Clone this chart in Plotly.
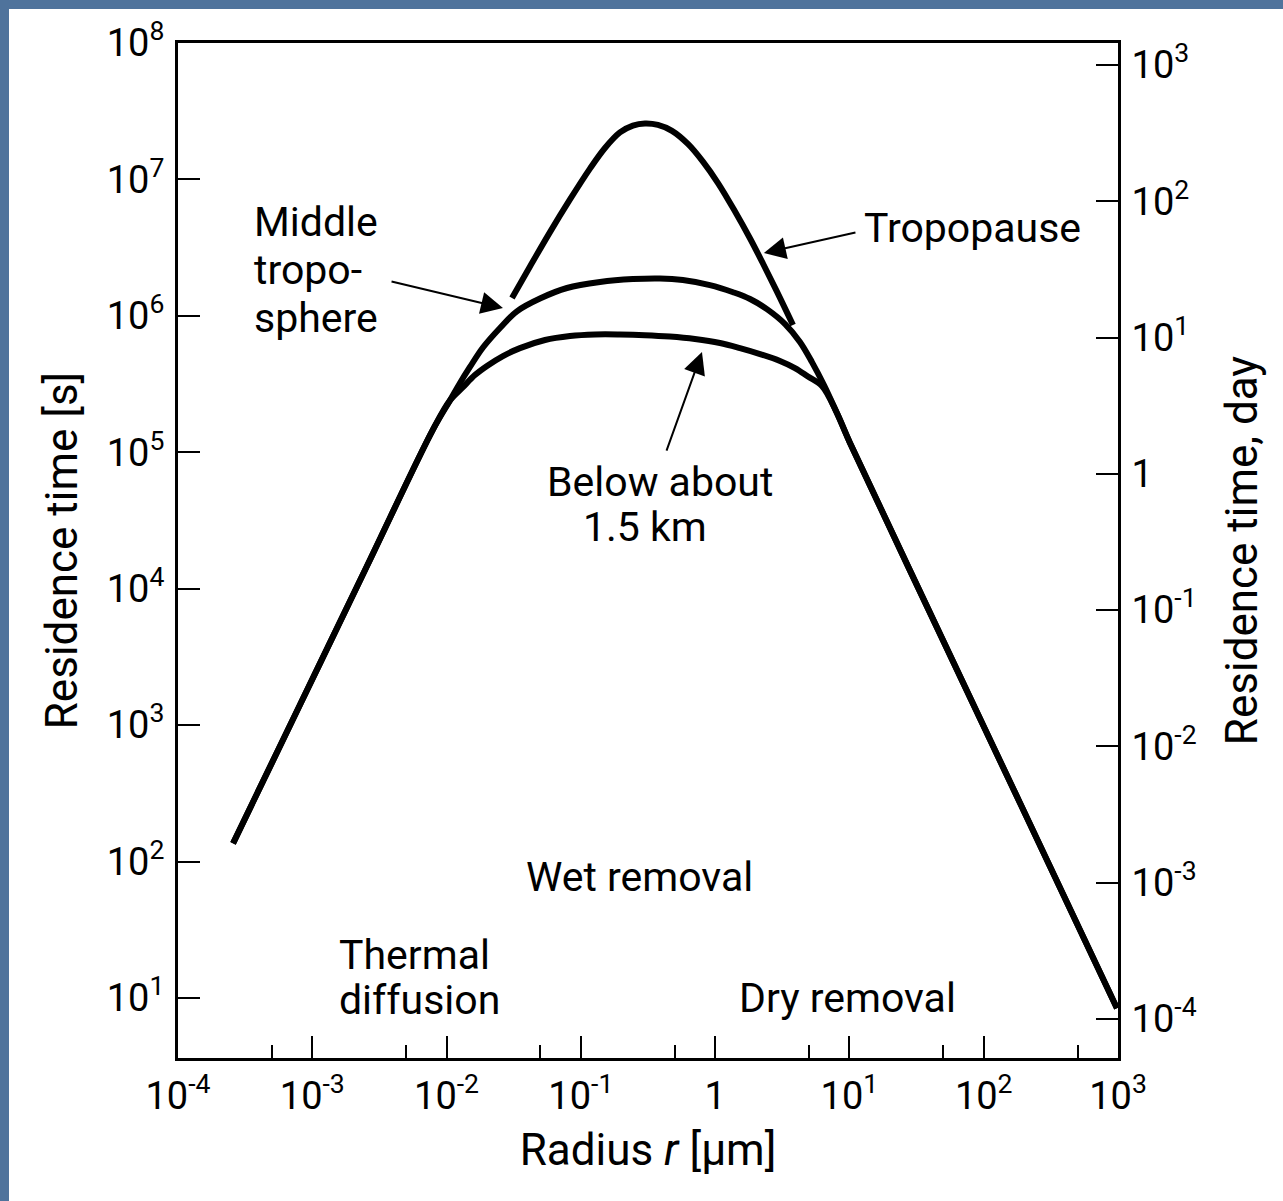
import plotly.graph_objects as go

# ---- curve data: aerosol radius r (µm) vs residence time (s) ----
# shared rising branch (thermal diffusion regime)
r_rise = [2.57e-4, 8.1e-4, 2.55e-3, 7.9e-3, 1.06e-2]
t_rise = [136, 1.41e3, 1.46e4, 1.46e5, 2.4e5]

# plateau below about 1.5 km
r_low = [0.01324, 0.01626, 0.0200, 0.0263, 0.0352, 0.0541, 0.0830, 0.1274, 0.1955,
         0.300, 0.460, 0.707, 1.086, 1.53, 2.16, 3.04, 3.93, 4.91, 6.24]
t_low = [3.0e5, 3.68e5, 4.29e5, 5.07e5, 5.80e5, 6.65e5, 7.11e5, 7.30e5, 7.30e5,
         7.22e5, 7.05e5, 6.76e5, 6.32e5, 5.80e5, 5.25e5, 4.67e5, 4.14e5, 3.59e5, 3.06e5]

# plateau in the middle troposphere
r_mid = [0.01259, 0.01494, 0.01866, 0.0250, 0.0334, 0.0496, 0.0788, 0.1388, 0.244,
         0.388, 0.575, 0.914, 1.36, 1.82, 2.43, 3.32, 4.28, 5.26, 6.46]
t_mid = [3.22e5, 4.22e5, 5.86e5, 8.15e5, 1.08e6, 1.34e6, 1.60e6, 1.77e6, 1.86e6,
         1.88e6, 1.83e6, 1.68e6, 1.49e6, 1.33e6, 1.12e6, 8.7e5, 6.43e5, 4.58e5, 3.11e5]

# shared falling branch (dry removal regime)
r_fall = [8.07, 10.1, 35.2, 311, 982]
t_fall = [1.94e5, 1.17e5, 8.6e3, 92.5, 8.4]

# peak near the tropopause
r_trop = [0.0307, 0.0418, 0.0589, 0.0830, 0.1169, 0.1512, 0.1955, 0.244, 0.300, 0.375,
          0.477, 0.627, 0.811, 1.05, 1.40, 1.82, 2.27, 2.88, 3.80]
t_trop = [1.35e6, 2.30e6, 4.11e6, 7.13e6, 1.20e7, 1.70e7, 2.21e7, 2.48e7, 2.57e7, 2.51e7,
          2.27e7, 1.82e7, 1.35e7, 9.41e6, 5.87e6, 3.69e6, 2.42e6, 1.51e6, 8.56e5]

# ---- tick definitions ----
x_ticks = [1e-4, 1e-3, 1e-2, 1e-1, 1, 1e1, 1e2, 1e3]
x_ticktext = ["10<sup>-4</sup>", "10<sup>-3</sup>", "10<sup>-2</sup>", "10<sup>-1</sup>",
              "1", "10<sup>1</sup>", "10<sup>2</sup>", "10<sup>3</sup>"]
x_minor_ticks = [5e-4, 5e-3, 5e-2, 5e-1, 5, 50, 500]

y_sec_ticks = [1e1, 1e2, 1e3, 1e4, 1e5, 1e6, 1e7, 1e8]
y_sec_ticktext = ["10<sup>1</sup>", "10<sup>2</sup>", "10<sup>3</sup>", "10<sup>4</sup>",
                  "10<sup>5</sup>", "10<sup>6</sup>", "10<sup>7</sup>", "10<sup>8</sup>"]

y_day_ticks = [1e-4, 1e-3, 1e-2, 1e-1, 1, 1e1, 1e2, 1e3]
y_day_ticktext = ["10<sup>-4</sup>", "10<sup>-3</sup>", "10<sup>-2</sup>", "10<sup>-1</sup>",
                  "1", "10<sup>1</sup>", "10<sup>2</sup>", "10<sup>3</sup>"]

FONT = "Roboto, Open Sans, sans-serif"
W, H = 1283, 1201
ML, MR, MT, MB = 178, 165, 43, 143
PW, PH = W - ML - MR, H - MT - MB

line_style = dict(color="black", width=6, shape="spline", smoothing=1.0)

fig = go.Figure()
fig.add_trace(go.Scatter(x=r_rise + r_low + r_fall, y=t_rise + t_low + t_fall,
                         mode="lines", line=line_style, name="Below about 1.5 km",
                         hoverinfo="skip"))
fig.add_trace(go.Scatter(x=r_rise + r_mid + r_fall, y=t_rise + t_mid + t_fall,
                         mode="lines", line=line_style, name="Middle troposphere",
                         hoverinfo="skip"))
fig.add_trace(go.Scatter(x=r_trop, y=t_trop, mode="lines", line=line_style,
                         name="Tropopause", hoverinfo="skip"))
# empty trace so the day axis is created
fig.add_trace(go.Scatter(x=[], y=[], yaxis="y2", showlegend=False, hoverinfo="skip"))

tickfont = dict(family=FONT, size=38, color="black")
titlefont = dict(family=FONT, size=44, color="black")

fig.update_layout(
    width=W, height=H, autosize=False,
    margin=dict(l=ML, r=MR, t=MT, b=MB, pad=0),
    paper_bgcolor="#4f739c", plot_bgcolor="white",
    showlegend=False,
    xaxis=dict(type="log", range=[-4, 3], showgrid=False, zeroline=False,
               showline=True, linecolor="black", linewidth=3, mirror=True,
               ticks="inside", ticklen=22, tickwidth=2, tickcolor="black",
               tickmode="array", tickvals=x_ticks, ticktext=x_ticktext,
               tickfont=tickfont, ticklabelstandoff=2,
               minor=dict(tickmode="array", tickvals=x_minor_ticks, ticks="inside",
                          ticklen=13, tickwidth=2, tickcolor="black", showgrid=False),
               title=dict(text="Radius <i>r</i> [µm]", font=titlefont, standoff=18)),
    yaxis=dict(type="log", range=[0.56, 8.0], showgrid=False, zeroline=False,
               showline=True, linecolor="black", linewidth=3,
               ticks="inside", ticklen=22, tickwidth=2, tickcolor="black",
               tickmode="array", tickvals=y_sec_ticks, ticktext=y_sec_ticktext,
               tickfont=tickfont, ticklabelstandoff=3,
               title=dict(text="Residence time [s]", font=titlefont, standoff=16)),
    yaxis2=dict(type="log", range=[-4.286, 3.161], overlaying="y", side="right",
                showgrid=False, zeroline=False,
                showline=True, linecolor="black", linewidth=3,
                ticks="inside", ticklen=22, tickwidth=2, tickcolor="black",
                tickmode="array", tickvals=y_day_ticks, ticktext=y_day_ticktext,
                tickfont=tickfont, ticklabelstandoff=3,
                title=dict(text="Residence time, day", font=titlefont, standoff=31)),
)

# white sheet over the blue backdrop (leaves a thin blue band top and left)
fig.add_shape(type="rect", xref="paper", yref="paper", layer="below",
              x0=(9 - ML) / PW, x1=(W + 5 - ML) / PW,
              y0=-(MB + 5) / PH, y1=(PH + MT - 9) / PH,
              fillcolor="white", line=dict(width=0))

annfont = dict(family=FONT, size=41, color="black")

# one annotation per text line, positioned in log10 axis units
labels = [
    dict(text="Middle", x=-3.449, y=6.688, xanchor="left"),
    dict(text="tropo-", x=-3.449, y=6.336, xanchor="left"),
    dict(text="sphere", x=-3.449, y=5.984, xanchor="left"),
    dict(text="Tropopause", x=1.093, y=6.644, xanchor="left"),
    dict(text="Below about", x=-0.411, y=4.782, xanchor="center"),
    dict(text="1.5 km", x=-0.523, y=4.452, xanchor="center"),
    dict(text="Wet removal", x=-0.560, y=1.886, xanchor="center"),
    dict(text="Thermal", x=-2.816, y=1.314, xanchor="left"),
    dict(text="diffusion", x=-2.816, y=0.984, xanchor="left"),
    dict(text="Dry removal", x=0.989, y=1.0, xanchor="center"),
]
for lab in labels:
    fig.add_annotation(xref="x", yref="y", showarrow=False, yanchor="middle",
                       font=annfont, **lab)

# pointer arrows: (head x, head y, tail x, tail y) in log10 units
arrows = [
    (-1.580, 6.057, -2.421, 6.255),
    (0.363, 6.460, 1.056, 6.614),
    (-0.098, 5.735, -0.366, 5.001),
]
for hx, hy, tx, ty in arrows:
    fig.add_annotation(x=hx, y=hy, ax=tx, ay=ty, xref="x", yref="y",
                       axref="x", ayref="y", text="", showarrow=True,
                       arrowhead=2, arrowsize=2.2, arrowwidth=2, arrowcolor="black",
                       standoff=0, startstandoff=0)

fig.write_html("out.html")
